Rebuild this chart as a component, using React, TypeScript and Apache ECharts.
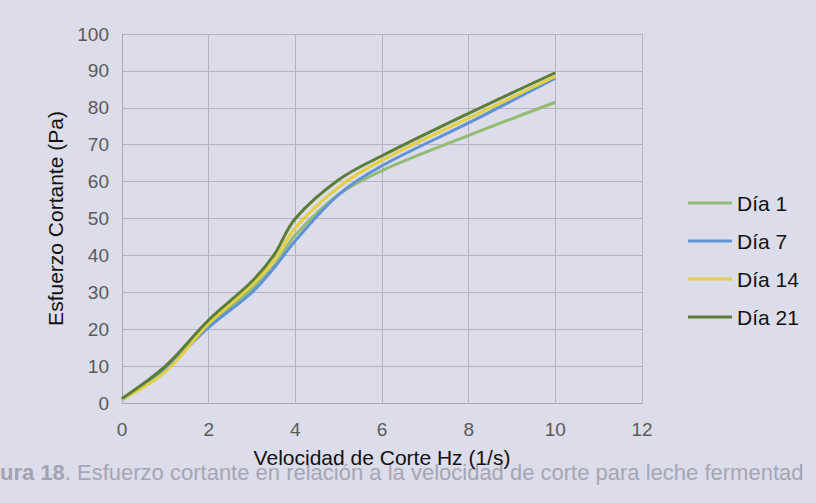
import React, { useEffect, useRef } from "react";
import * as echarts from "echarts";

const shearRate = [0, 1, 2, 3, 3.5, 4, 5, 6, 8, 10];
const dia1 = [1, 9.5, 21, 31, 37, 45.5, 56.5, 63, 72.5, 81.5];
const dia7 = [0.8, 9.5, 20.5, 30, 36.5, 44, 56.5, 64.3, 75.9, 88];
const dia14 = [1, 8.5, 21.5, 32, 38.5, 47.5, 58.5, 65.8, 77.2, 88.5];
const dia21 = [1.2, 10, 22.5, 33, 40, 50, 60.5, 67, 78.5, 89.5];
const seriesNames = ["Día 1", "Día 7", "Día 14", "Día 21"];
const seriesColors = ["#93bb72", "#5f93d6", "#e3d040", "#5b7d38"];
const captionLead = "ura 18";
const captionRest = ". Esfuerzo cortante en relación a la velocidad de corte para leche fermentad";

export default function App() {
  const ref = useRef<HTMLDivElement>(null);
  useEffect(() => {
    if (!ref.current) return;
    const chart = echarts.init(ref.current, null, { renderer: "svg" });
    const all = [dia1, dia7, dia14, dia21];
    const font = "'Liberation Sans', Arial, sans-serif";
    chart.setOption({
      animation: false,
      backgroundColor: "#dcdcea",
      textStyle: { fontFamily: font },
      graphic: [
        {
          type: "text",
          left: 0,
          top: 461,
          z: 0,
          style: {
            text: `{b|${captionLead}}{n|${captionRest}}`,
            rich: {
              b: { fill: "#a2a2b0", fontSize: 22, fontWeight: "bold", fontFamily: font },
              n: { fill: "#a6a6b4", fontSize: 22, fontFamily: font },
            },
          },
        },
      ],
      grid: { left: 122, right: 174, top: 34, bottom: 100 },
      legend: {
        orient: "vertical",
        left: 688,
        top: 192,
        padding: 0,
        icon: "rect",
        itemWidth: 44,
        itemHeight: 3,
        itemGap: 16,
        data: seriesNames,
        textStyle: { fontSize: 21, color: "#111", fontFamily: font, lineHeight: 22 },
      },
      xAxis: {
        type: "value",
        min: 0,
        max: 12,
        interval: 2,
        name: "Velocidad de Corte Hz (1/s)",
        nameLocation: "middle",
        nameGap: 44,
        nameTextStyle: { fontSize: 21, color: "#111", fontFamily: font },
        axisLine: { show: true, lineStyle: { color: "#a8a8b0", width: 1 } },
        axisTick: { show: false },
        axisLabel: { fontSize: 19, color: "#5a5a5a", margin: 17, fontFamily: font },
        splitLine: { show: true, lineStyle: { color: "#b4b4bc", width: 1 } },
      },
      yAxis: {
        type: "value",
        min: 0,
        max: 100,
        interval: 10,
        name: "Esfuerzo Cortante (Pa)",
        nameLocation: "middle",
        nameGap: 54,
        nameTextStyle: { fontSize: 21, color: "#111", fontFamily: font },
        axisLine: { show: true, lineStyle: { color: "#a8a8b0", width: 1 } },
        axisTick: { show: false },
        axisLabel: { fontSize: 19, color: "#5a5a5a", margin: 13, fontFamily: font },
        splitLine: { show: true, lineStyle: { color: "#b4b4bc", width: 1 } },
      },
      series: seriesNames.map((name, i) => ({
        name,
        type: "line",
        smooth: 0.35,
        showSymbol: false,
        symbol: "none",
        color: seriesColors[i],
        lineStyle: { width: 3, color: seriesColors[i] },
        data: shearRate.map((x, j) => [x, all[i][j]]),
      })),
    });
    return () => chart.dispose();
  }, []);
  return <div ref={ref} style={{ width: 816, height: 503, position: "absolute", left: 0, top: 0 }} />;
}
